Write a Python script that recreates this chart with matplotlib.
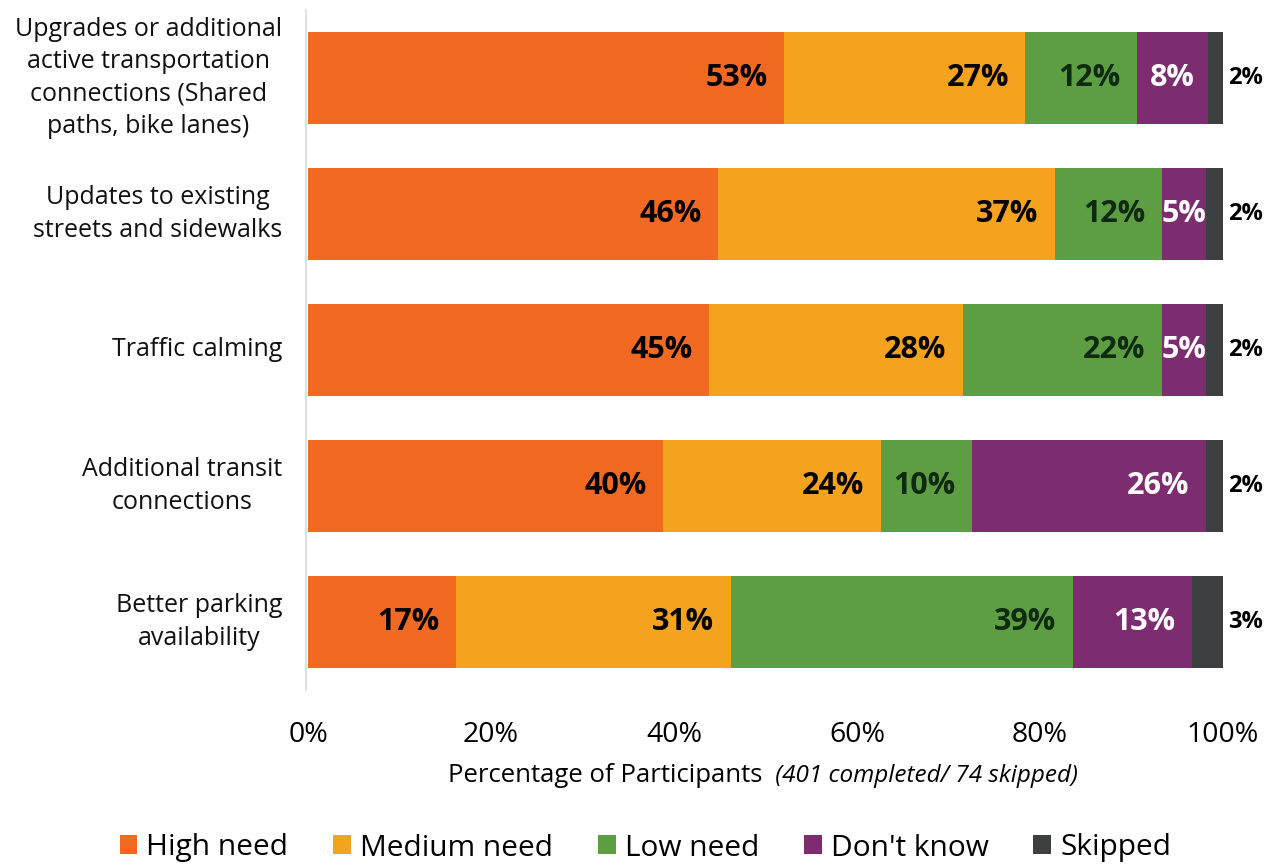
import matplotlib
matplotlib.use("Agg")
import matplotlib.pyplot as plt
import matplotlib.transforms as mtransforms
import numpy as np

plt.rcParams['font.family'] = ['Open Sans', 'DejaVu Sans']

categories = [
    "Upgrades or additional\nactive transportation\nconnections (Shared\npaths, bike lanes)",
    "Updates to existing\nstreets and sidewalks",
    "Traffic calming",
    "Additional transit\nconnections",
    "Better parking\navailability",
]
series_names = ["High need", "Medium need", "Low need", "Don't know", "Skipped"]
# segment widths (percent)
high_need = [52.0, 44.8, 43.8, 38.8, 16.2]
medium_need = [26.4, 36.8, 27.8, 23.8, 30.0]
low_need = [12.2, 11.7, 21.7, 10.0, 37.4]
dont_know = [7.8, 4.8, 4.8, 25.5, 13.0]
skipped = [1.6, 1.9, 1.9, 1.9, 3.4]
# printed labels
high_lbl = ["53%", "46%", "45%", "40%", "17%"]
medium_lbl = ["27%", "37%", "28%", "24%", "31%"]
low_lbl = ["12%", "12%", "22%", "10%", "39%"]
dk_lbl = ["8%", "5%", "5%", "26%", "13%"]
skip_lbl = ["2%", "2%", "2%", "2%", "3%"]
xticks = [0, 20, 40, 60, 80, 100]
xtick_labels = ["0%", "20%", "40%", "60%", "80%", "100%"]

colors = ["#F26A22", "#F5A31F", "#5E9E43", "#7E2C70", "#3D4041"]
label_colors = ["black", "black", "#0E2A10", "white", "black"]

fig = plt.figure(figsize=(12.68, 8.64), dpi=100)
ax = fig.add_axes([308/1268, 1 - 690/864, (1223-308)/1268, 680/864])

y = np.arange(len(categories))
data = [high_need, medium_need, low_need, dont_know, skipped]
labels = [high_lbl, medium_lbl, low_lbl, dk_lbl, skip_lbl]
left = np.zeros(len(categories))
for i, (vals, name) in enumerate(zip(data, series_names)):
    vals = np.array(vals)
    ax.barh(y, vals, left=left, height=0.67, color=colors[i], label=name)
    for j in range(len(categories)):
        if i < 4:
            if vals[j] < 9:
                ax.text(left[j] + vals[j] / 2, y[j], labels[i][j], ha='center', va='center',
                        fontsize=22, fontweight='bold', color=label_colors[i])
            else:
                ax.text(left[j] + vals[j] - 1.8, y[j], labels[i][j], ha='right', va='center',
                        fontsize=22, fontweight='bold', color=label_colors[i])
        else:
            ax.text(100.5, y[j], labels[i][j], ha='left', va='center',
                    fontsize=17, fontweight='bold', color='black', clip_on=False)
    left += vals

ax.set_xlim(0, 100)
ax.set_ylim(4.5, -0.5)
ax.set_yticks([])
trans = mtransforms.blended_transform_factory(fig.transFigure, ax.transData)
for j, cat in enumerate(categories):
    ax.text(282/1268, y[j], cat, transform=trans, ha='right', va='center',
            multialignment='center', fontsize=18, linespacing=1.4, color='#111111')
ax.set_xticks(xticks)
ax.set_xticklabels(xtick_labels, fontsize=20.5)
ax.tick_params(axis='x', length=0, pad=22)
for s in ['top', 'right', 'bottom']:
    ax.spines[s].set_visible(False)
ax.spines['left'].set_color('#D9D9D9')
ax.spines['left'].set_linewidth(1.2)
ax.spines['left'].set_position(('data', -0.2))

xc = (308 + 1223) / 2 / 1268 + 0.003
fig.text(xc, 1 - 776/864, "Percentage of Participants ", ha='right', va='center', fontsize=18.5)
fig.text(xc, 1 - 776/864, " (401 completed/ 74 skipped)", ha='left', va='center', fontsize=17.5,
         style='italic')

handles, lbls = ax.get_legend_handles_labels()
fig.legend(handles, lbls, loc='center', bbox_to_anchor=(0.509, 1 - 848/864), ncol=5,
           frameon=False, fontsize=21.5, handlelength=0.6, handleheight=0.6,
           handletextpad=0.3, columnspacing=1.5)

fig.savefig("out.png", dpi=100)
